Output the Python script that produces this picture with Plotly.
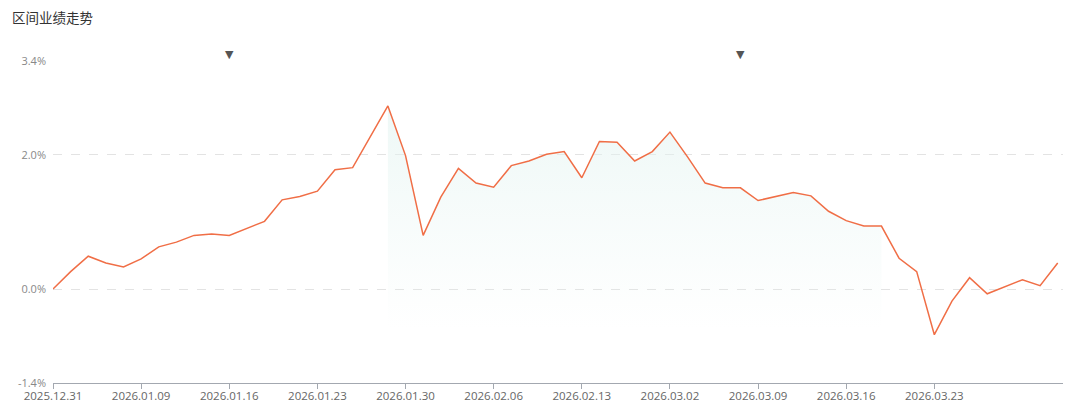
import plotly.graph_objects as go

# ---- data ----
dates = [
    "2025.12.31", "2026.01.05", "2026.01.06", "2026.01.07", "2026.01.08",
    "2026.01.09", "2026.01.12", "2026.01.13", "2026.01.14", "2026.01.15",
    "2026.01.16", "2026.01.19", "2026.01.20", "2026.01.21", "2026.01.22",
    "2026.01.23", "2026.01.26", "2026.01.27", "2026.01.28", "2026.01.29",
    "2026.01.30", "2026.02.02", "2026.02.03", "2026.02.04", "2026.02.05",
    "2026.02.06", "2026.02.09", "2026.02.10", "2026.02.11", "2026.02.12",
    "2026.02.13", "2026.02.24", "2026.02.25", "2026.02.26", "2026.02.27",
    "2026.03.02", "2026.03.03", "2026.03.04", "2026.03.05", "2026.03.06",
    "2026.03.09", "2026.03.10", "2026.03.11", "2026.03.12", "2026.03.13",
    "2026.03.16", "2026.03.17", "2026.03.18", "2026.03.19", "2026.03.20",
    "2026.03.23", "2026.03.24", "2026.03.25", "2026.03.26", "2026.03.27",
    "2026.03.30", "2026.03.31", "2026.04.01",
]
returns_pct = [
    0.00, 0.26, 0.49, 0.39, 0.33, 0.45, 0.63, 0.70, 0.80, 0.82,
    0.80, 0.90, 1.01, 1.33, 1.38, 1.46, 1.78, 1.81, 2.27, 2.73,
    1.99, 0.80, 1.37, 1.80, 1.58, 1.52, 1.84, 1.91, 2.01, 2.05,
    1.66, 2.20, 2.19, 1.91, 2.05, 2.34, 1.97, 1.58, 1.51, 1.51,
    1.32, 1.38, 1.44, 1.39, 1.16, 1.02, 0.94, 0.94, 0.46, 0.26,
    -0.68, -0.18, 0.17, -0.07, 0.04, 0.14, 0.05, 0.39,
]
tick_dates = ["2025.12.31", "2026.01.09", "2026.01.16", "2026.01.23", "2026.01.30",
              "2026.02.06", "2026.02.13", "2026.03.02", "2026.03.09", "2026.03.16",
              "2026.03.23"]
y_ticks = [-1.4, 0.0, 2.0, 3.4]
y_tick_text = ["-1.4%", "0.0%", "2.0%", "3.4%"]
marker_dates = ["2026.01.16", "2026.03.06"]
shade_start = "2026.01.29"
shade_end = "2026.03.18"
shade_floor = -0.6

title = "区间业绩走势"

FONT = "Noto Sans CJK SC, Noto Sans, sans-serif"
TICK_FONT = "Open Sans, Noto Sans, sans-serif"
LINE_COLOR = "#f06e46"

i0 = dates.index(shade_start)
i1 = dates.index(shade_end)
shade_x = dates[i0:i1 + 1]
shade_y = returns_pct[i0:i1 + 1]

fig = go.Figure()

# baseline for the shaded interval
fig.add_trace(go.Scatter(
    x=shade_x, y=[shade_floor] * len(shade_x), mode="lines",
    line=dict(width=0, color="rgba(0,0,0,0)"), hoverinfo="skip", showlegend=False,
))
# shaded interval (gradient)
fig.add_trace(go.Scatter(
    x=shade_x, y=shade_y, mode="lines", fill="tonexty",
    line=dict(width=0, color="rgba(0,0,0,0)"),
    fillgradient=dict(
        type="vertical",
        colorscale=[[0, "rgba(228,244,241,0)"], [0.5, "rgba(228,244,241,0.3)"],
                    [1, "rgba(226,243,240,0.6)"]],
        start=shade_floor, stop=max(shade_y),
    ),
    hoverinfo="skip", showlegend=False,
))
# main line
fig.add_trace(go.Scatter(
    x=dates, y=returns_pct, mode="lines",
    line=dict(color=LINE_COLOR, width=1.5),
    showlegend=False,
))

annotations = []
for d in marker_dates:
    annotations.append(dict(
        x=d, xref="x", y=1, yref="paper", yanchor="bottom", yshift=-2,
        text="▼", showarrow=False,
        font=dict(size=11, color="#555555", family="DejaVu Sans"),
    ))

# the page body adds an 8px offset; margins compensate for it
fig.update_layout(
    width=1080, height=408,
    margin=dict(l=45, r=25, t=53, b=33, autoexpand=False),
    paper_bgcolor="white", plot_bgcolor="white",
    title=dict(text=title, x=4 / 1080, xref="container", xanchor="left",
               y=1 - 10 / 408, yref="container", yanchor="middle",
               font=dict(family=FONT, size=13.5, color="#333333")),
    font=dict(family=FONT),
    annotations=annotations,
    showlegend=False,
)

fig.update_xaxes(
    type="category", categoryorder="array", categoryarray=dates,
    range=[0, 57.3], automargin=False,
    tickmode="array", tickvals=tick_dates, ticktext=tick_dates,
    showgrid=False, zeroline=False,
    showline=True, linecolor="#a3a8b0", linewidth=1.2,
    ticks="outside", ticklen=5, tickcolor="#a3a8b0",
    tickfont=dict(family=TICK_FONT, size=11.5, color="#666666"),
    ticklabelstandoff=-3,
)
fig.update_yaxes(
    range=[-1.4, 3.4], automargin=False,
    tickmode="array", tickvals=y_ticks, ticktext=y_tick_text,
    showgrid=True, gridcolor="#e3e3e3", griddash="dash", gridwidth=1,
    zeroline=False, showline=False, ticks="",
    tickfont=dict(family=TICK_FONT, size=11, color="#888888"),
    ticklabelstandoff=6,
)

fig.write_html("out.html")
